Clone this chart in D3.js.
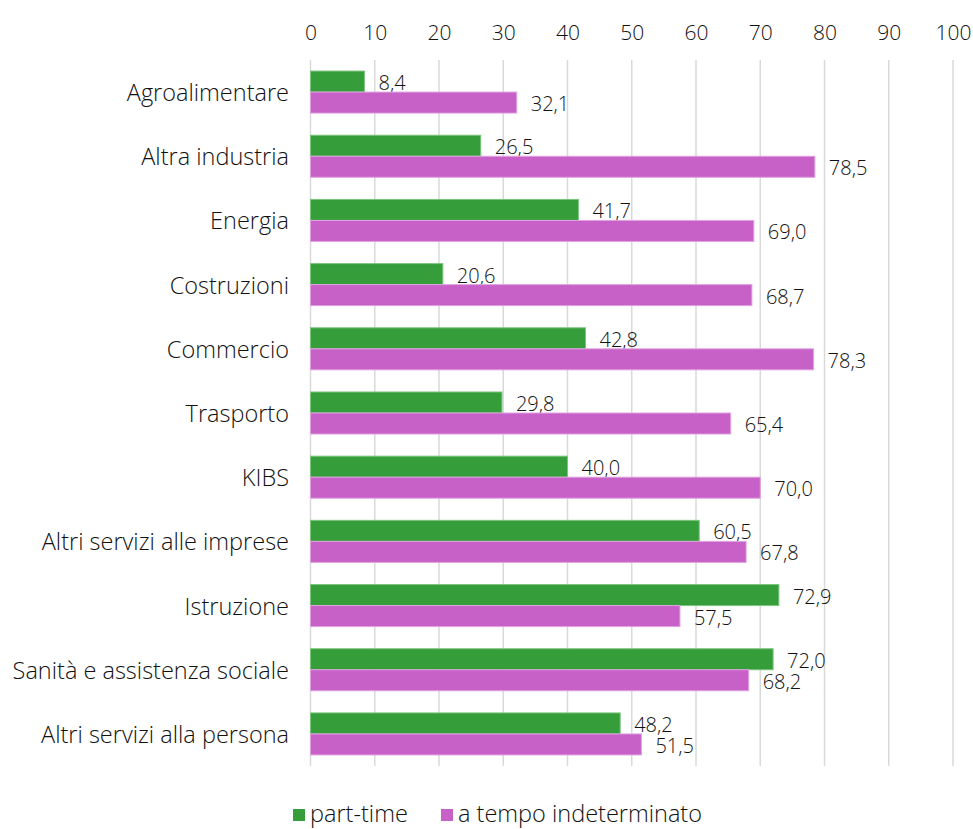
<!DOCTYPE html>
<html>
<head>
<meta charset="utf-8">
<script src="https://cdn.jsdelivr.net/npm/d3@7"></script>
<style>
  body { margin: 0; background: #fff; }
  svg text { font-family: "Open Sans", Lato, sans-serif; font-weight: 300; fill: #111; }
</style>
</head>
<body>
<svg id="chart" width="973" height="829"></svg>
<script>
// Sector shares (%) for part-time and permanent contracts
const categories = [
  "Agroalimentare", "Altra industria", "Energia", "Costruzioni", "Commercio",
  "Trasporto", "KIBS", "Altri servizi alle imprese", "Istruzione",
  "Sanità e assistenza sociale", "Altri servizi alla persona"
];
const partTime = [8.4, 26.5, 41.7, 20.6, 42.8, 29.8, 40.0, 60.5, 72.9, 72.0, 48.2];
const indeterminato = [32.1, 78.5, 69.0, 68.7, 78.3, 65.4, 70.0, 67.8, 57.5, 68.2, 51.5];
const seriesNames = ["part-time", "a tempo indeterminato"];
const seriesColors = ["#359d39", "#c760c7"];
const seriesStroke = ["#7dc57f", "#e0a3e0"];
const xTicks = [0, 10, 20, 30, 40, 50, 60, 70, 80, 90, 100];

const svg = d3.select("#chart");
const plotLeft = 310.5, plotRight = 953, plotTop = 60, plotBottom = 766;

const x = d3.scaleLinear().domain([0, 100]).range([plotLeft, plotRight]);
const y = d3.scaleBand().domain(categories).range([plotTop, plotBottom]).paddingInner(0.345).paddingOuter(0.172);
const sub = d3.scaleBand().domain([0, 1]).range([0, y.bandwidth()]);

const fmt = v => v.toFixed(1).replace(".", ",");

// gridlines
svg.append("g").selectAll("line").data(xTicks).join("line")
  .attr("x1", d => x(d)).attr("x2", d => x(d))
  .attr("y1", plotTop).attr("y2", plotBottom)
  .attr("stroke", "#d9d9d9").attr("stroke-width", 1.5);

// top axis labels
const axis = svg.append("g").attr("transform", `translate(0,${plotTop})`)
  .call(d3.axisTop(x).tickValues(xTicks).tickSize(0).tickPadding(20).tickFormat(d3.format("d")));
axis.select(".domain").remove();
axis.selectAll("text").attr("font-size", 21).style("font-family", "'Open Sans', sans-serif")
  .style("font-weight", 300).attr("fill", "#111");

// category labels
svg.append("g").selectAll("text").data(categories).join("text")
  .attr("x", 289).attr("y", d => y(d) + y.bandwidth() / 2)
  .attr("text-anchor", "end").attr("dominant-baseline", "central")
  .attr("font-size", 23.5).text(d => d);

const series = [partTime, indeterminato];
series.forEach((vals, si) => {
  const g = svg.append("g");
  g.selectAll("rect").data(vals).join("rect")
    .attr("x", x(0))
    .attr("y", (d, i) => y(categories[i]) + sub(si))
    .attr("width", d => x(d) - x(0))
    .attr("height", sub.bandwidth())
    .attr("fill", seriesColors[si])
    .attr("stroke", seriesStroke[si]).attr("stroke-width", 1);
  g.selectAll("text").data(vals).join("text")
    .attr("x", d => x(d) + 14)
    .attr("y", (d, i) => y(categories[i]) + sub(si) + sub.bandwidth() / 2 + 1)
    .attr("dominant-baseline", "central")
    .attr("font-size", 20).text(d => fmt(d));
});

// legend
const legendX = [293, 441];
const lg = svg.append("g");
seriesNames.forEach((n, i) => {
  lg.append("rect").attr("x", legendX[i]).attr("y", 809).attr("width", 12).attr("height", 12)
    .attr("fill", seriesColors[i]);
  lg.append("text").attr("x", legendX[i] + 17).attr("y", 813).attr("dominant-baseline", "central")
    .attr("font-size", 23.5).text(n);
});
</script>
</body>
</html>
